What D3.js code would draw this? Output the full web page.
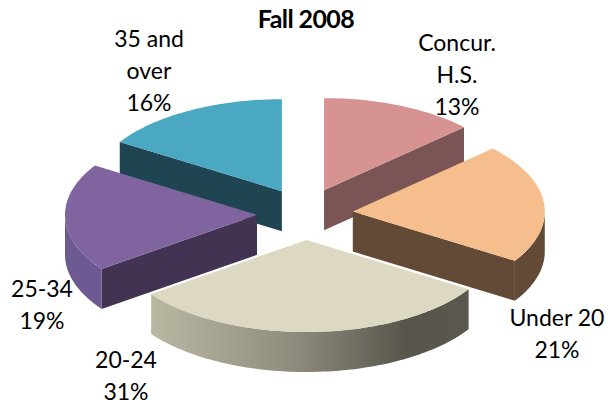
<!DOCTYPE html>
<html>
<head>
<meta charset="utf-8">
<script src="https://cdn.jsdelivr.net/npm/d3@7"></script>
<style>
  body { margin: 0; background: #fff; }
  text { font-family: Lato, "Liberation Sans", sans-serif; fill: #000; }
</style>
</head>
<body>
<div class="viewbox"></div>
<script>
  // values
  const categories = ["Concur. H.S.", "Under 20", "20-24", "25-34", "35 and over"];
  const values = [13, 21, 31, 19, 16];
  // how excel wrapped the label text
  const labelLines = [["Concur.", "H.S."], ["Under 20"], ["20-24"], ["25-34"], ["35 and", "over"]];

  const topColors = ["#d79292", "#f6be8c", "#dcd8c1", "#7f64a0", "#4aa8c3"];
  const cutColors = ["#7b5556", "#634a37", "#5a574e", "#433353", "#1f4552"];
  const wallColors = ["#7b5556", "#634a37", "url(#beigeWall)", "#6d5a92", "#1f4552"];

  const svg_width = 608;
  const svg_height = 404;

  // ellipse of the tilted pie
  const cx = 305, cy = 214, rx = 192, ry = 92, depth = 40;
  const explodeX = 48, explodeY = 26;
  // first line of each label (center)
  const labelPos = [[457, 42], [557, 317], [126, 359], [42, 288], [149, 38]];
  const lineH = 32;

  let svg = d3.select(".viewbox")
    .append("svg")
    .attr("width", svg_width)
    .attr("height", svg_height);

  let grad = svg.append("defs").append("linearGradient")
    .attr("id", "beigeWall")
    .attr("x1", 0).attr("x2", 1).attr("y1", 0).attr("y2", 0);
  grad.append("stop").attr("offset", "0%").attr("stop-color", "#bab7a3");
  grad.append("stop").attr("offset", "45%").attr("stop-color", "#8f8c7d");
  grad.append("stop").attr("offset", "80%").attr("stop-color", "#58554c");
  grad.append("stop").attr("offset", "100%").attr("stop-color", "#5a574e");

  let pie = d3.pie().sort(null).value(d => d)
  let arcs = pie(values).map((a, i) => {
    let mid = (a.startAngle + a.endAngle) / 2
    a.i = i
    a.ox = cx + explodeX * Math.sin(mid)
    a.oy = cy - explodeY * Math.cos(mid)
    return a
  })

  // point on rim (r=1) or center (r=0), dz pushes it down the side
  function pt(a, ang, r, dz) {
    return [a.ox + rx * r * Math.sin(ang), a.oy - ry * r * Math.cos(ang) + dz]
  }

  function arcPts(a, a0, a1, dz) {
    let n = Math.max(2, Math.ceil(Math.abs(a1 - a0) / 0.02))
    return d3.range(n + 1).map(k => pt(a, a0 + (a1 - a0) * k / n, 1, dz))
  }

  function poly(points) {
    let p = d3.path()
    points.forEach((q, k) => k ? p.lineTo(q[0], q[1]) : p.moveTo(q[0], q[1]))
    p.closePath()
    return p.toString()
  }

  // back slices first
  let order = arcs.slice().sort((a, b) => a.oy - b.oy)

  order.forEach(a => {
    let g = svg.append("g").attr("class", "slice")
    let c = pt(a, 0, 0, 0)
    let cb = pt(a, 0, 0, depth)

    // cut faces that face the viewer
    if (Math.sin(a.startAngle) < -1e-6) {
      g.append("path")
        .attr("d", poly([c, pt(a, a.startAngle, 1, 0), pt(a, a.startAngle, 1, depth), cb]))
        .attr("fill", cutColors[a.i])
    }
    if (Math.sin(a.endAngle) > 1e-6) {
      g.append("path")
        .attr("d", poly([c, pt(a, a.endAngle, 1, 0), pt(a, a.endAngle, 1, depth), cb]))
        .attr("fill", cutColors[a.i])
    }

    // outer wall, only the front half shows
    let w0 = Math.max(a.startAngle, Math.PI / 2)
    let w1 = Math.min(a.endAngle, Math.PI * 1.5)
    if (w1 > w0) {
      let top = arcPts(a, w0, w1, 0)
      let bottom = arcPts(a, w0, w1, depth).reverse()
      g.append("path")
        .attr("d", poly(top.concat(bottom)))
        .attr("fill", wallColors[a.i])
    }

    g.append("path")
      .attr("d", poly([c].concat(arcPts(a, a.startAngle, a.endAngle, 0))))
      .attr("fill", topColors[a.i])
  })

  svg.append("text")
    .attr("x", 306)
    .attr("y", 18)
    .attr("text-anchor", "middle")
    .attr("dominant-baseline", "central")
    .style("font-weight", "bold")
    .style("font-size", "25px")
    .style("letter-spacing", "-0.6px")
    .text("Fall 2008")

  arcs.forEach(a => {
    let lines = labelLines[a.i].concat([values[a.i] + "%"])
    let t = svg.append("text")
      .attr("text-anchor", "middle")
      .style("font-size", "23px")
    lines.forEach((s, k) => {
      t.append("tspan")
        .attr("x", labelPos[a.i][0])
        .attr("y", labelPos[a.i][1] + k * lineH)
        .attr("dominant-baseline", "central")
        .text(s)
    })
  })
</script>
</body>
</html>
